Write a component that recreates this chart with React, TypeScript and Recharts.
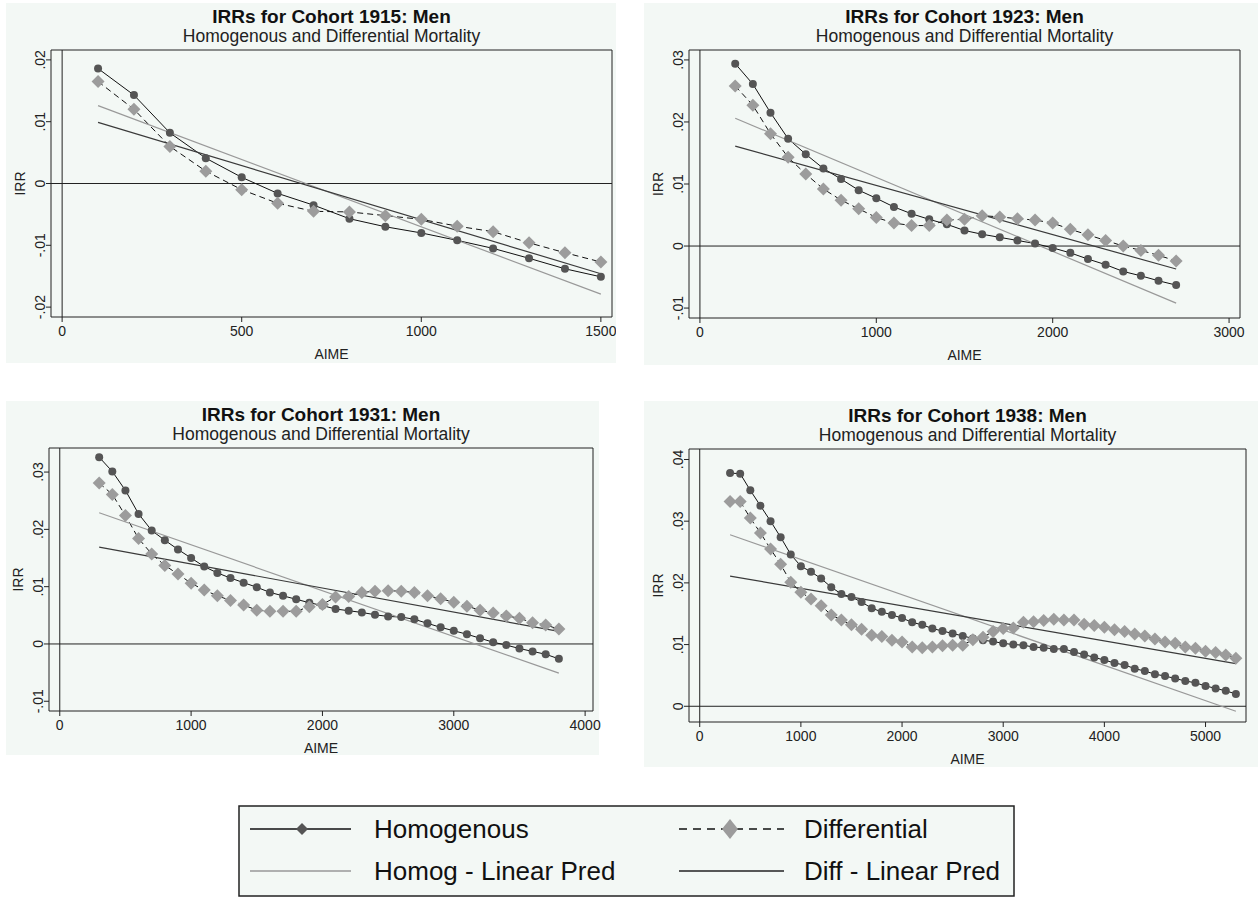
import React from "react";
import { LineChart, Line, XAxis, YAxis, ReferenceLine, ReferenceArea, Label } from "recharts";

const FONT = '"Liberation Sans", Arial, Helvetica, sans-serif';
const BG = "#f3f8f5";

// ---- Cohort 1915 ----
const P1_AIME = [100, 200, 300, 400, 500, 600, 700, 800, 900, 1000, 1100, 1200, 1300, 1400, 1500];
const P1_HOMOG = [0.0186, 0.0143, 0.0082, 0.0041, 0.001, -0.0016, -0.0035, -0.0057, -0.007, -0.008, -0.0092, -0.0105, -0.0121, -0.0138, -0.0151];
const P1_DIFF = [0.0165, 0.012, 0.006, 0.002, -0.001, -0.0032, -0.0045, -0.0046, -0.0052, -0.0058, -0.0069, -0.0078, -0.0096, -0.0112, -0.0127];
const P1_FIT_X = [100, 1500];
const P1_HOMOG_FIT = [0.0126, -0.0179];
const P1_DIFF_FIT = [0.0099, -0.0146];

// ---- Cohort 1923 ----
const P2_AIME = [200, 300, 400, 500, 600, 700, 800, 900, 1000, 1100, 1200, 1300, 1400, 1500, 1600, 1700, 1800, 1900, 2000, 2100, 2200, 2300, 2400, 2500, 2600, 2700];
const P2_HOMOG = [0.0294, 0.0261, 0.0215, 0.0173, 0.0148, 0.0125, 0.0108, 0.009, 0.0077, 0.0063, 0.0052, 0.0043, 0.0035, 0.0025, 0.0019, 0.0014, 0.0009, 0.0004, -0.0003, -0.0011, -0.0021, -0.003, -0.0041, -0.0048, -0.0056, -0.0063];
const P2_DIFF = [0.0258, 0.0227, 0.0181, 0.0143, 0.0116, 0.0092, 0.0074, 0.006, 0.0046, 0.0037, 0.0033, 0.0033, 0.0042, 0.0043, 0.0049, 0.0047, 0.0044, 0.0042, 0.0037, 0.0027, 0.0018, 0.0009, 0.0, -0.0007, -0.0015, -0.0024];
const P2_FIT_X = [200, 2700];
const P2_HOMOG_FIT = [0.0206, -0.0092];
const P2_DIFF_FIT = [0.0161, -0.0037];

// ---- Cohort 1931 ----
const P3_AIME = [300, 400, 500, 600, 700, 800, 900, 1000, 1100, 1200, 1300, 1400, 1500, 1600, 1700, 1800, 1900, 2000, 2100, 2200, 2300, 2400, 2500, 2600, 2700, 2800, 2900, 3000, 3100, 3200, 3300, 3400, 3500, 3600, 3700, 3800];
const P3_HOMOG = [0.0326, 0.0301, 0.0268, 0.0227, 0.0198, 0.0181, 0.0165, 0.015, 0.0135, 0.0124, 0.0115, 0.0107, 0.0099, 0.009, 0.0084, 0.0078, 0.0072, 0.0067, 0.0061, 0.0058, 0.0055, 0.0051, 0.0048, 0.0047, 0.0043, 0.0036, 0.0029, 0.0023, 0.0017, 0.001, 0.0003, -0.0002, -0.0008, -0.0013, -0.0018, -0.0026];
const P3_DIFF = [0.0281, 0.0261, 0.0224, 0.0184, 0.0157, 0.0137, 0.0122, 0.0106, 0.0094, 0.0084, 0.0076, 0.0068, 0.0059, 0.0057, 0.0057, 0.0057, 0.0065, 0.0069, 0.0082, 0.0083, 0.009, 0.0092, 0.0093, 0.0092, 0.009, 0.0084, 0.0079, 0.0073, 0.0066, 0.0059, 0.0054, 0.0049, 0.0045, 0.0037, 0.0033, 0.0026];
const P3_FIT_X = [300, 3800];
const P3_HOMOG_FIT = [0.0229, -0.0051];
const P3_DIFF_FIT = [0.0169, 0.0022];

// ---- Cohort 1938 ----
const P4_AIME = [300, 400, 500, 600, 700, 800, 900, 1000, 1100, 1200, 1300, 1400, 1500, 1600, 1700, 1800, 1900, 2000, 2100, 2200, 2300, 2400, 2500, 2600, 2700, 2800, 2900, 3000, 3100, 3200, 3300, 3400, 3500, 3600, 3700, 3800, 3900, 4000, 4100, 4200, 4300, 4400, 4500, 4600, 4700, 4800, 4900, 5000, 5100, 5200, 5300];
const P4_HOMOG = [0.0378, 0.0377, 0.035, 0.0325, 0.03, 0.0274, 0.0246, 0.0227, 0.0218, 0.0207, 0.0193, 0.0182, 0.0177, 0.0169, 0.0159, 0.0153, 0.0148, 0.0143, 0.0136, 0.0132, 0.0126, 0.0122, 0.0118, 0.0114, 0.011, 0.0107, 0.0105, 0.0102, 0.01, 0.0099, 0.0096, 0.0095, 0.0093, 0.0093, 0.0088, 0.0084, 0.0079, 0.0075, 0.007, 0.0067, 0.0061, 0.0057, 0.0052, 0.0049, 0.0045, 0.0041, 0.0038, 0.0033, 0.0029, 0.0025, 0.002];
const P4_DIFF = [0.0332, 0.0332, 0.0305, 0.0281, 0.0255, 0.023, 0.0201, 0.0185, 0.0174, 0.0163, 0.0148, 0.014, 0.0132, 0.0125, 0.0115, 0.0113, 0.0107, 0.0104, 0.0096, 0.0095, 0.0096, 0.0098, 0.0099, 0.0099, 0.0108, 0.0112, 0.0121, 0.0126, 0.0127, 0.0136, 0.0137, 0.0139, 0.0141, 0.014, 0.014, 0.0133, 0.0131, 0.0128, 0.0124, 0.0121, 0.0117, 0.0114, 0.0109, 0.0104, 0.0102, 0.0096, 0.0094, 0.0089, 0.0087, 0.0083, 0.0078];
const P4_FIT_X = [300, 5300];
const P4_HOMOG_FIT = [0.0278, -0.0008];
const P4_DIFF_FIT = [0.0211, 0.0069];

const TITLES = ["IRRs for Cohort 1915: Men", "IRRs for Cohort 1923: Men", "IRRs for Cohort 1931: Men", "IRRs for Cohort 1938: Men"];
const SUBTITLE = "Homogenous and Differential Mortality";
const LEGEND_LABELS = ["Homogenous", "Differential", "Homog - Linear Pred", "Diff - Linear Pred"];

const X_TICKS = [[0, 500, 1000, 1500], [0, 1000, 2000, 3000], [0, 1000, 2000, 3000, 4000], [0, 1000, 2000, 3000, 4000, 5000]];
const Y_TICKS = [[-0.02, -0.01, 0, 0.01, 0.02], [-0.01, 0, 0.01, 0.02, 0.03], [-0.01, 0, 0.01, 0.02, 0.03], [0, 0.01, 0.02, 0.03, 0.04]];

const pts = (xs: number[], ys: number[]) => xs.map((x, i) => ({ x, y: ys[i] }));

const fmtY = (v: number) => {
  if (Math.abs(v) < 1e-9) return "0";
  const s = Math.abs(v).toFixed(2).replace(/^0/, "");
  return (v < 0 ? "-" : "") + s;
};

// ox: extra room to the right of the panel background so edge tick labels are not clipped
const PANELS = [
  { left: 6, top: 3, w: 610, h: 360, ox: 0, ml: 45, mr: 4, mt: 47, mb: 46, xDomain: [-31, 1531], yDomain: [-0.0216, 0.0216],
    aime: P1_AIME, homog: P1_HOMOG, diff: P1_DIFF, fitX: P1_FIT_X, homogFit: P1_HOMOG_FIT, diffFit: P1_DIFF_FIT },
  { left: 644, top: 3, w: 614, h: 362, ox: 0, ml: 45, mr: 18, mt: 47, mb: 47, xDomain: [-62, 3062], yDomain: [-0.0116, 0.0316],
    aime: P2_AIME, homog: P2_HOMOG, diff: P2_DIFF, fitX: P2_FIT_X, homogFit: P2_HOMOG_FIT, diffFit: P2_DIFF_FIT },
  { left: 6, top: 401, w: 593, h: 354, ox: 14, ml: 43, mr: 6, mt: 47, mb: 44, xDomain: [-82, 4060], yDomain: [-0.0117, 0.0342],
    aime: P3_AIME, homog: P3_HOMOG, diff: P3_DIFF, fitX: P3_FIT_X, homogFit: P3_HOMOG_FIT, diffFit: P3_DIFF_FIT },
  { left: 644, top: 401, w: 614, h: 366, ox: 0, ml: 45, mr: 12, mt: 48, mb: 45, xDomain: [-106, 5400], yDomain: [-0.00255, 0.0417],
    aime: P4_AIME, homog: P4_HOMOG, diff: P4_DIFF, fitX: P4_FIT_X, homogFit: P4_HOMOG_FIT, diffFit: P4_DIFF_FIT },
];

const diamondDot = (props: any) => {
  const { cx, cy, index } = props;
  if (cx == null || cy == null) return <g key={`dm-${index}`} />;
  const s = 6.5;
  return (
    <polygon key={`dm-${index}`} points={`${cx},${cy - s} ${cx + s},${cy} ${cx},${cy + s} ${cx - s},${cy}`} fill="#9c9c9c" stroke="none" />
  );
};

function Panel({ idx }: { idx: number }) {
  const p = PANELS[idx];
  const plotW = p.w - p.ml - p.mr;
  const cx = p.ml + plotW / 2;
  const YTick = (props: any) => {
    const { y, payload } = props;
    const bx = p.ml - 6;
    return (
      <text x={bx} y={y} transform={`rotate(-90, ${bx}, ${y})`} textAnchor="middle" fontSize={14} fill="#222" fontFamily={FONT}>
        {fmtY(payload.value)}
      </text>
    );
  };
  return (
    <div style={{ position: "absolute", left: p.left, top: p.top, width: p.w, height: p.h, background: BG }}>
      <svg width={p.w} height={p.mt} style={{ position: "absolute", left: 0, top: 0 }}>
        <text x={cx} y={p.mt - 34 + 7} textAnchor="middle" fontSize={19} fontWeight="bold" fill="#111" fontFamily={FONT}>
          {TITLES[idx]}
        </text>
        <text x={cx} y={p.mt - 14 + 6} textAnchor="middle" fontSize={17.5} fill="#222" fontFamily={FONT}>
          {SUBTITLE}
        </text>
      </svg>
      <LineChart
        width={p.w + p.ox}
        height={p.h}
        margin={{ top: p.mt, right: p.mr + p.ox, bottom: 0, left: 0 }}
        style={{ position: "absolute", left: 0, top: 0 }}
      >
        <XAxis
          type="number"
          dataKey="x"
          domain={p.xDomain}
          allowDataOverflow
          ticks={X_TICKS[idx]}
          height={p.mb}
          axisLine={false}
          tickLine={{ stroke: "#222" }}
          tickSize={5}
          tickMargin={4}
          tick={{ fill: "#222", fontSize: 14, fontFamily: FONT }}
        >
          <Label
            content={(lp: any) => {
              const vb = lp.viewBox || {};
              return (
                <text x={vb.x + vb.width / 2} y={vb.y + 42} textAnchor="middle" fontSize={14} fill="#222" fontFamily={FONT}>
                  AIME
                </text>
              );
            }}
          />
        </XAxis>
        <YAxis
          type="number"
          domain={p.yDomain}
          allowDataOverflow
          ticks={Y_TICKS[idx]}
          width={p.ml}
          axisLine={false}
          tickLine={{ stroke: "#222" }}
          tickSize={5}
          tick={YTick}
        >
          <Label
            content={(lp: any) => {
              const vb = lp.viewBox || {};
              const bx = p.ml - 26;
              const my = vb.y + vb.height / 2;
              return (
                <text x={bx} y={my} transform={`rotate(-90, ${bx}, ${my})`} textAnchor="middle" fontSize={14} fill="#222" fontFamily={FONT}>
                  IRR
                </text>
              );
            }}
          />
        </YAxis>
        <ReferenceArea x1={p.xDomain[0]} x2={p.xDomain[1]} y1={p.yDomain[0]} y2={p.yDomain[1]} fill="none" fillOpacity={0} stroke="#222" strokeWidth={1} />
        <ReferenceLine x={0} stroke="#222" strokeWidth={1} />
        <ReferenceLine y={0} stroke="#222" strokeWidth={1} />
        <Line
          data={pts(p.aime, p.homog)}
          dataKey="y"
          type="linear"
          stroke="#111"
          strokeWidth={1}
          dot={{ r: 4, fill: "#555", stroke: "#555", strokeWidth: 0 }}
          isAnimationActive={false}
        />
        <Line
          data={pts(p.aime, p.diff)}
          dataKey="y"
          type="linear"
          stroke="#111"
          strokeWidth={1}
          strokeDasharray="6 4"
          dot={diamondDot}
          isAnimationActive={false}
        />
        <Line data={pts(p.fitX, p.homogFit)} dataKey="y" type="linear" stroke="#999" strokeWidth={1.2} dot={false} isAnimationActive={false} />
        <Line data={pts(p.fitX, p.diffFit)} dataKey="y" type="linear" stroke="#3a3a3a" strokeWidth={1.2} dot={false} isAnimationActive={false} />
      </LineChart>
    </div>
  );
}

function LegendBox() {
  const W = 775;
  const H = 90;
  const r1 = 24;
  const r2 = 66;
  const fs = 26;
  const base = 9.3;
  return (
    <svg width={W + 2} height={H + 2} style={{ position: "absolute", left: 238, top: 805 }}>
      <rect x={1} y={1} width={W} height={H} fill={BG} stroke="#222" strokeWidth={1.5} />
      <line x1={12} x2={113} y1={r1} y2={r1} stroke="#111" strokeWidth={1.5} />
      <polygon points={`64,${r1 - 6} 70,${r1} 64,${r1 + 6} 58,${r1}`} fill="#555" />
      <text x={136} y={r1 + base} fontSize={fs} fill="#111" fontFamily={FONT}>{LEGEND_LABELS[0]}</text>
      <line x1={441} x2={546} y1={r1} y2={r1} stroke="#111" strokeWidth={1.5} strokeDasharray="8 6" />
      <polygon points={`492,${r1 - 10} 500,${r1} 492,${r1 + 10} 484,${r1}`} fill="#9c9c9c" />
      <text x={566} y={r1 + base} fontSize={fs} fill="#111" fontFamily={FONT}>{LEGEND_LABELS[1]}</text>
      <line x1={12} x2={113} y1={r2} y2={r2} stroke="#999" strokeWidth={1.5} />
      <text x={136} y={r2 + base} fontSize={fs} fill="#111" fontFamily={FONT}>{LEGEND_LABELS[2]}</text>
      <line x1={441} x2={546} y1={r2} y2={r2} stroke="#222" strokeWidth={1.5} />
      <text x={566} y={r2 + base} fontSize={fs} fill="#111" fontFamily={FONT}>{LEGEND_LABELS[3]}</text>
    </svg>
  );
}

export default function App() {
  return (
    <div style={{ position: "absolute", left: 0, top: 0, width: 1258, height: 898, background: "#fff", fontFamily: FONT }}>
      {PANELS.map((_, i) => (
        <Panel key={i} idx={i} />
      ))}
      <LegendBox />
    </div>
  );
}
